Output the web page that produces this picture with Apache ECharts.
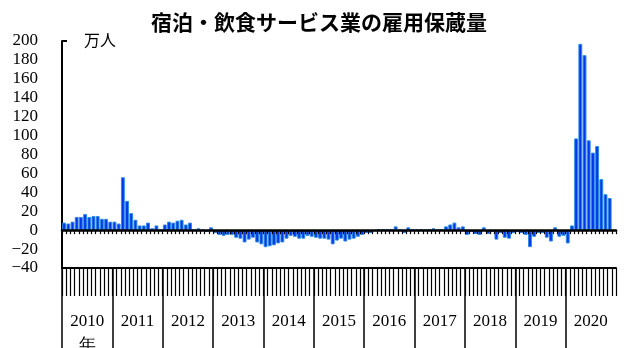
<!DOCTYPE html>
<html>
<head>
<meta charset="utf-8">
<script src="https://cdn.jsdelivr.net/npm/echarts@6/dist/echarts.min.js"></script>
<style>
  html, body { margin: 0; padding: 0; background: #fff; }
  #chart { width: 624px; height: 348px; }
</style>
</head>
<body>
<div id="chart"></div>
<script>
// 宿泊・飲食サービス業の雇用保蔵量（万人、月次）
const title = '宿泊・飲食サービス業の雇用保蔵量';
const unit = '万人';
const years = ['2010', '2011', '2012', '2013', '2014', '2015', '2016', '2017', '2018', '2019', '2020'];
const yearSuffix = '年';

const v2010 = [8, 7, 9, 14, 14, 17, 14, 15, 15, 12, 12, 9];
const v2011 = [9, 7, 56, 31, 18, 11, 5, 5, 8, 2, 5, 0];
const v2012 = [6, 9, 8, 10, 11, 6, 8, 0, 2, 0, -2, 3];
const v2013 = [-3, -5, -6, -5, -5, -8, -9, -13, -10, -8, -13, -15];
const v2014 = [-18, -17, -16, -14, -13, -9, -6, -7, -9, -9, -6, -7];
const v2015 = [-8, -9, -9, -10, -15, -11, -9, -12, -10, -9, -7, -5];
const v2016 = [-3, -3, -1, 1, 1, 1, 1, 4, 0, -3, 3, 1];
const v2017 = [0, 1, 0, 1, 2, 0, 1, 4, 6, 8, 3, 4];
const v2018 = [-5, -2, -4, -5, 3, -4, -2, -10, -3, -8, -9, -3];
const v2019 = [-2, -3, -5, -18, -7, -3, -3, -8, -12, 3, -7, -6];
const v2020 = [-14, 5, 97, 197, 185, 95, 82, 89, 54, 38, 34, null];

const yMin = -40, yMax = 200, yStep = 20;

// monthly categories and the series built from the yearly arrays
const months = [];
years.forEach(y => { for (let m = 1; m <= 12; m++) months.push(y + '-' + m); });
const values = [].concat(v2010, v2011, v2012, v2013, v2014, v2015, v2016, v2017, v2018, v2019, v2020);

// year blocks on a month scale: separators at each January, labels mid-year
const yearStarts = years.map((_, i) => i * 12);
const yearMids = years.map((_, i) => i * 12 + 6);

const serif = '"Liberation Serif", "DejaVu Serif", serif';
const gothic = '"Noto Sans CJK JP", sans-serif';

const chart = echarts.init(document.getElementById('chart'), null, { renderer: 'canvas' });
chart.setOption({
  animation: false,
  backgroundColor: '#fff',
  title: {
    text: title,
    left: 146,
    top: 7,
    textStyle: { fontFamily: gothic, fontSize: 21, fontWeight: 'bold', color: '#000' }
  },
  graphic: [{
    type: 'text',
    left: 84,
    top: 32,
    style: { text: unit, font: '16px ' + gothic, fill: '#000' }
  }],
  grid: { left: 62, right: 8, top: 41, bottom: 80, outerBoundsMode: 'none', containLabel: false },
  xAxis: [
    {
      // month axis sitting on the zero line
      type: 'category',
      data: months,
      position: 'bottom',
      z: 10,
      axisLine: { onZero: true, lineStyle: { color: '#000', width: 2.5 } },
      axisTick: { show: true, interval: 0, length: 4, lineStyle: { color: '#000', width: 1.2 } },
      axisLabel: { show: false },
      splitLine: { show: false }
    },
    {
      // month strip under the plot
      type: 'category',
      data: months,
      position: 'bottom',
      axisLine: { onZero: false, lineStyle: { color: '#000', width: 2 } },
      axisTick: { show: true, interval: 0, length: 28, lineStyle: { color: '#000', width: 1.2 } },
      axisLabel: { show: false },
      splitLine: { show: false }
    },
    {
      // year separators and labels
      type: 'value',
      min: 0,
      max: months.length,
      position: 'bottom',
      axisLine: { show: false, onZero: false },
      axisTick: { show: true, customValues: yearStarts, length: 85, lineStyle: { color: '#000', width: 1.5 } },
      axisLabel: {
        customValues: yearMids,
        margin: 42,
        fontFamily: serif,
        fontSize: 17,
        lineHeight: 24,
        color: '#000',
        formatter: v => {
          const i = Math.round((v - 6) / 12);
          return i === 0 ? years[i] + '\n' + yearSuffix : years[i];
        }
      },
      splitLine: { show: false }
    }
  ],
  yAxis: {
    type: 'value',
    min: yMin,
    max: yMax,
    interval: yStep,
    axisLine: { show: true, onZero: false, lineStyle: { color: '#000', width: 2 } },
    axisTick: { show: true, inside: true, customValues: [yMax], length: 5, lineStyle: { color: '#000', width: 2 } },
    splitLine: { show: false },
    axisLabel: {
      margin: 24,
      fontFamily: serif,
      fontSize: 17,
      color: '#000',
      formatter: v => String(v).replace('-', '\u2212')
    }
  },
  series: [{
    type: 'bar',
    xAxisIndex: 0,
    data: values,
    barCategoryGap: '8%',
    itemStyle: { color: '#0037e8', borderColor: '#2d8be6', borderWidth: 1 }
  }]
});
</script>
</body>
</html>
